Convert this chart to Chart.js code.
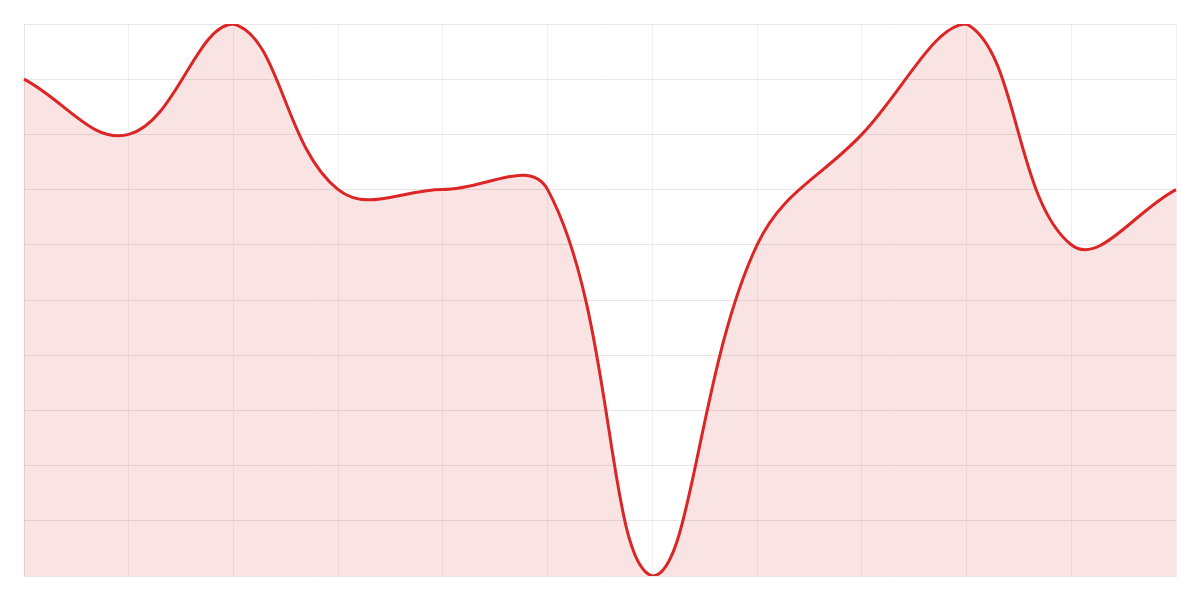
<!DOCTYPE html>
<html>
<head>
<meta charset="utf-8">
<script src="https://cdn.jsdelivr.net/npm/chart.js@4"></script>
<style>
  html, body { margin: 0; padding: 0; background: #ffffff; }
  #wrap { width: 1200px; height: 600px; }
</style>
</head>
<body>
<div id="wrap"><canvas id="lineChart"></canvas></div>
<script>
const labels = ['1', '2', '3', '4', '5', '6', '7', '8', '9', '10', '11', '12'];
const values = [9, 8, 10, 7, 7, 7, 0, 6, 8, 10, 6, 7];

function createLineChart() {
    const ctx = document.getElementById('lineChart').getContext('2d');

    new Chart(ctx, {
        type: 'line',
        data: {
            labels: labels,
            datasets: [{
                data: values,
                borderColor: '#dc2626',
                backgroundColor: 'rgba(220, 38, 38, 0.13)',
                borderWidth: 3,
                fill: true,
                tension: 0.4,
                pointRadius: 0
            }]
        },
        options: {
            responsive: true,
            maintainAspectRatio: false,
            animation: false,
            layout: { padding: 24 },
            plugins: {
                legend: { display: false },
                tooltip: { enabled: false }
            },
            scales: {
                x: {
                    ticks: { display: false },
                    grid: { color: '#f0f0f0', drawTicks: false },
                    border: { color: '#e5e5e5' }
                },
                y: {
                    min: 0,
                    max: 10,
                    ticks: { display: false, stepSize: 1 },
                    grid: { color: '#e6e6e6', drawTicks: false },
                    border: { color: '#e5e5e5' }
                }
            }
        }
    });
}

createLineChart();
</script>
</body>
</html>
